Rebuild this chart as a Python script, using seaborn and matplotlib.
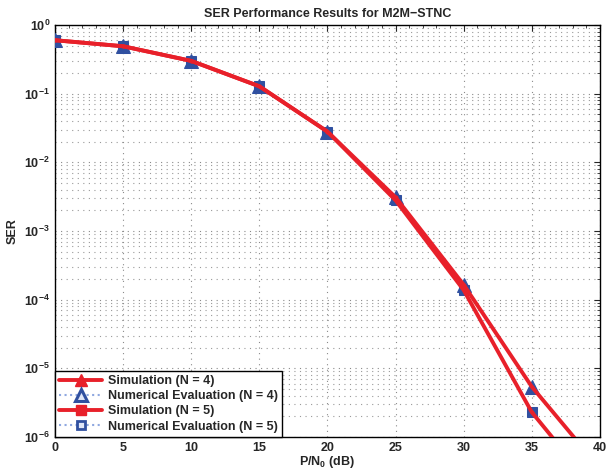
import numpy as np
import pandas as pd
import matplotlib
matplotlib.use("Agg")
import matplotlib.pyplot as plt
import matplotlib.ticker as mticker
from matplotlib.lines import Line2D
import seaborn as sns

snr_sim = [0, 5, 10, 15, 20, 25, 30, 35, 40]
ser_sim_n4 = [0.60, 0.49, 0.30, 0.128, 0.028, 3.1e-3, 1.65e-4, 5.4e-6, 3.5e-7]
ser_sim_n5 = [0.60, 0.49, 0.30, 0.128, 0.028, 2.8e-3, 1.38e-4, 2.3e-6, 1.4e-7]
snr_num = [0, 5, 10, 15, 20, 25, 30, 35]
ser_num_n4 = [0.60, 0.49, 0.30, 0.128, 0.028, 3.1e-3, 1.65e-4, 5.4e-6]
ser_num_n5 = [0.60, 0.49, 0.30, 0.128, 0.028, 2.8e-3, 1.38e-4, 2.3e-6]
x_ticks = [0, 5, 10, 15, 20, 25, 30, 35, 40]
labels = ['Simulation (N = 4)', 'Numerical Evaluation (N = 4)',
          'Simulation (N = 5)', 'Numerical Evaluation (N = 5)']

sns.set_style("white")
plt.rcParams['font.family'] = ['Liberation Sans', 'DejaVu Sans']
plt.rcParams['font.weight'] = 'bold'
plt.rcParams['mathtext.fontset'] = 'custom'
plt.rcParams['mathtext.rm'] = 'Liberation Sans:bold'
plt.rcParams['mathtext.bf'] = 'Liberation Sans:bold'
plt.rcParams['mathtext.it'] = 'Liberation Sans:bold'
plt.rcParams['mathtext.default'] = 'rm'

fig = plt.figure(figsize=(6.09, 4.76), dpi=100)
ax = fig.add_axes([0.0903, 0.082, 0.8947, 0.8655])

red = '#e8202a'
blue = '#3050a0'
lblue = '#8fa8e0'

# numerical evaluation (blue, below the red lines)
sns.lineplot(x=snr_num, y=ser_num_n5, ax=ax, color=lblue, lw=1.5, linestyle=':',
             marker='s', markersize=7.5, markerfacecolor=blue, markeredgecolor=blue,
             zorder=3, legend=False)
sns.lineplot(x=snr_num, y=ser_num_n4, ax=ax, color=lblue, lw=1.5, linestyle=':',
             marker='^', markersize=10, markerfacecolor=blue, markeredgecolor=blue,
             zorder=3.5, legend=False)
# simulation (red, on top)
sns.lineplot(x=snr_sim, y=ser_sim_n4, ax=ax, color=red, lw=2.8, marker='o',
             markersize=2, markerfacecolor=red, markeredgecolor=red,
             zorder=4, legend=False)
sns.lineplot(x=snr_sim, y=ser_sim_n5, ax=ax, color=red, lw=2.8, marker='o',
             markersize=2, markerfacecolor=red, markeredgecolor=red,
             zorder=4, legend=False)

ax.set_yscale('log')
ax.set_xlim(0, 40)
ax.set_ylim(1e-6, 1)
ax.set_xticks(x_ticks)
ax.set_xticklabels([str(t) for t in x_ticks])
ax.xaxis.set_minor_locator(mticker.MultipleLocator(1))
ax.yaxis.set_major_locator(mticker.LogLocator(base=10, numticks=10))
ax.yaxis.set_minor_locator(mticker.LogLocator(base=10, subs=np.arange(2, 10), numticks=20))
ax.yaxis.set_major_formatter(mticker.FuncFormatter(
    lambda v, p: r'$10^{%d}$' % int(round(np.log10(v)))))
ax.yaxis.set_minor_formatter(mticker.NullFormatter())
ax.set_xlabel('')
ax.set_ylabel('')

ax.grid(True, which='major', axis='both', linestyle=(0, (1, 4)), color='#8a8a8a', lw=0.8)
ax.grid(True, which='minor', axis='y', linestyle=(0, (1, 4)), color='#9a9a9a', lw=0.8)
ax.tick_params(which='both', direction='in', top=True, right=True, labelsize=9)
ax.tick_params(which='major', length=4)
ax.tick_params(which='minor', length=2)
for s in ax.spines.values():
    s.set_color('black')
    s.set_linewidth(1.0)

ax.set_title('SER Performance Results for M2M\u2212STNC', fontsize=9, fontweight='bold', pad=6)
ax.set_xlabel('P/N$_0$ (dB)', fontsize=9, fontweight='bold', labelpad=0)
ax.set_ylabel('SER', fontsize=9, fontweight='bold', labelpad=4)

handles = [
    Line2D([], [], color=red, lw=2.8, marker='^', markersize=9,
           markerfacecolor=red, markeredgecolor=red),
    Line2D([], [], color=lblue, lw=1.5, linestyle=':', marker='^', markersize=8,
           markerfacecolor='#dfe6f8', markeredgecolor=blue, markeredgewidth=2.2),
    Line2D([], [], color=red, lw=2.8, marker='s', markersize=7,
           markerfacecolor=red, markeredgecolor=red),
    Line2D([], [], color=lblue, lw=1.5, linestyle=':', marker='s', markersize=6,
           markerfacecolor='#dfe6f8', markeredgecolor=blue, markeredgewidth=2.0),
]
leg = ax.legend(handles, labels, loc='lower left', fontsize=9, frameon=True,
                fancybox=False, edgecolor='black', framealpha=1, handlelength=3.4,
                borderaxespad=0.0, borderpad=0.35, labelspacing=0.25,
                handletextpad=0.5)
leg.get_frame().set_linewidth(1.0)
leg.set_zorder(10)
for t in leg.get_texts():
    t.set_fontweight('bold')

fig.savefig('out.png', dpi=100)
